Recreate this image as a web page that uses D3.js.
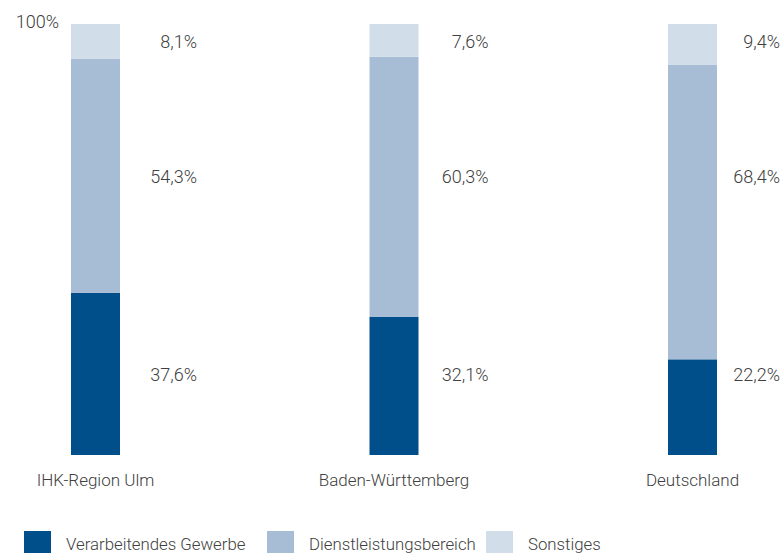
<!DOCTYPE html>
<html>
<head>
<meta charset="utf-8">
<script src="https://cdn.jsdelivr.net/npm/d3@7"></script>
<style>
  body { margin: 0; background: #fff; }
  text { font-family: Roboto, "Open Sans", sans-serif; font-weight: 300; fill: #404040; }
</style>
</head>
<body>
<div id="chart"></div>
<script>
// Anteile der Beschäftigten nach Wirtschaftsbereichen
var regions = ["IHK-Region Ulm", "Baden-Württemberg", "Deutschland"];
var seriesNames = ["Verarbeitendes Gewerbe", "Dienstleistungsbereich", "Sonstiges"];
var gewerbe = [37.6, 32.1, 22.2];
var dienst = [54.3, 60.3, 68.4];
var sonstiges = [8.1, 7.6, 9.4];
var colors = ["#004f8a", "#a7bdd5", "#d1dde8"];

var svgWidth = 783, svgHeight = 553;

var table = regions.map(function(r, i) {
  return { region: r, v0: gewerbe[i], v1: dienst[i], v2: sonstiges[i] };
});
var stack = d3.stack().keys(["v0", "v1", "v2"]);
var layers = stack(table);

var x = d3.scalePoint().domain(regions).range([95.5, 692.5]);
// value labels are right-aligned in their own column
var xLabel = d3.scalePoint().domain(regions).range([197, 780]);
var y = d3.scaleLinear().domain([0, 100]).range([455, 24]);
var barW = 49;

var fmt = function(v) { return String(+v.toFixed(1)).replace(".", ",") + "%"; };

var svg = d3.select("#chart").append("svg")
    .attr("width", svgWidth)
    .attr("height", svgHeight);

// 100% label
svg.append("text")
    .attr("x", 59).attr("y", 28)
    .style("text-anchor", "end")
    .style("font-size", "18px")
    .text("100%");

var groups = svg.selectAll(".layer")
    .data(layers)
  .enter().append("g")
    .attr("class", "layer")
    .attr("fill", function(d, i) { return colors[i]; });

groups.selectAll("rect")
    .data(function(d) { return d; })
  .enter().append("rect")
    .attr("x", function(d) { return x(d.data.region) - barW / 2; })
    .attr("y", function(d) { return y(d[1]); })
    .attr("width", barW)
    .attr("height", function(d) { return y(d[0]) - y(d[1]); });

// labels sit at the same height for every bar, taken from the first bar's segments
groups.each(function(layer) {
  var first = layer[0];
  var ly = (y(first[0]) + y(first[1])) / 2 + 7;
  d3.select(this).selectAll("text")
      .data(layer)
    .enter().append("text")
      .attr("x", function(d) { return xLabel(d.data.region); })
      .attr("y", ly)
      .style("text-anchor", "end")
      .style("font-size", "18px")
      .text(function(d) { return fmt(d[1] - d[0]); });
});

// category labels
svg.selectAll(".cat")
    .data(regions)
  .enter().append("text")
    .attr("class", "cat")
    .attr("x", function(d) { return x(d); })
    .attr("y", 486)
    .style("text-anchor", "middle")
    .style("font-size", "17px")
    .text(function(d) { return d; });

// legend
var legendX = [24, 267, 486];
var legend = svg.selectAll(".legend")
    .data(seriesNames)
  .enter().append("g")
    .attr("class", "legend")
    .attr("transform", function(d, i) { return "translate(" + legendX[i] + ",531)"; });

legend.append("rect")
    .attr("width", 27).attr("height", 24)
    .attr("fill", function(d, i) { return colors[i]; });

legend.append("text")
    .attr("x", 42).attr("y", 19)
    .style("font-size", "16.8px")
    .text(function(d) { return d; });
</script>
</body>
</html>
